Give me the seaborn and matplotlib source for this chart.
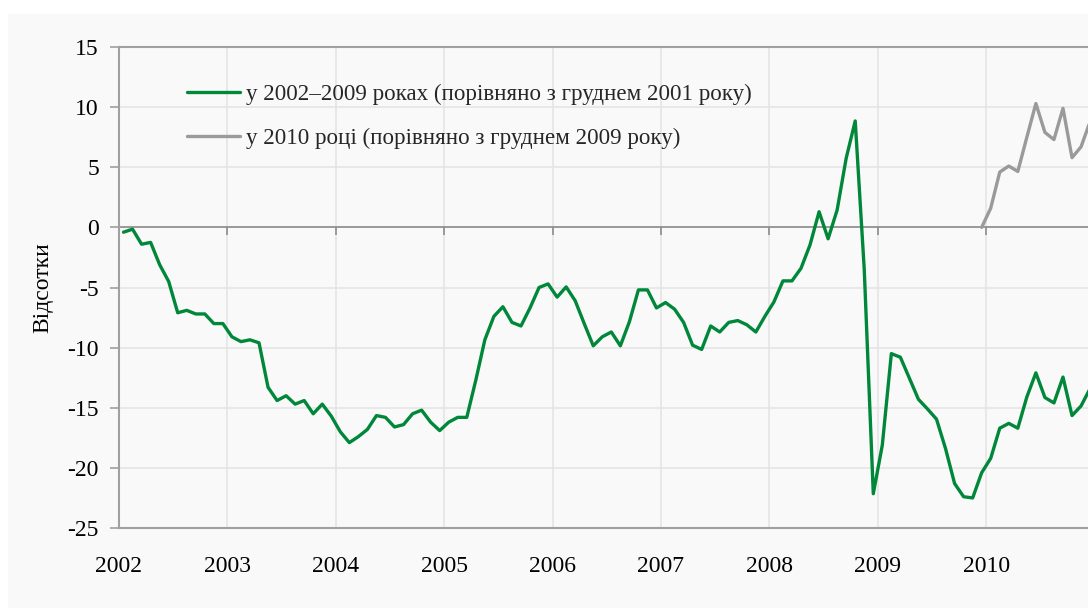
import numpy as np
import matplotlib
matplotlib.use("Agg")
import matplotlib.pyplot as plt
import matplotlib.patches as mpatches
from matplotlib.ticker import MultipleLocator, FormatStrFormatter
import seaborn as sns
import pandas as pd

# monthly index values, Jan 2002 .. Dec 2010 (vs Dec 2001)
since_2001 = [
    -0.4, -0.15, -1.4, -1.25, -3.1, -4.5, -7.1, -6.9, -7.2, -7.2, -8.0, -8.0,          # 2002
    -9.1, -9.5, -9.35, -9.6, -13.3, -14.4, -14.0, -14.7, -14.4, -15.5, -14.7, -15.7,   # 2003
    -17.0, -17.9, -17.4, -16.8, -15.65, -15.8, -16.6, -16.4, -15.5, -15.2, -16.2, -16.9,  # 2004
    -16.2, -15.8, -15.8, -12.7, -9.35, -7.4, -6.6, -7.9, -8.2, -6.7, -5.0, -4.7,       # 2005
    -5.8, -4.95, -6.1, -8.0, -9.85, -9.1, -8.7, -9.85, -7.85, -5.2, -5.2, -6.7,        # 2006
    -6.25, -6.8, -7.9, -9.8, -10.15, -8.2, -8.7, -7.9, -7.75, -8.1, -8.7, -7.4,        # 2007
    -6.2, -4.45, -4.45, -3.4, -1.45, 1.3, -0.95, 1.45, 5.75, 8.85, -3.5, -22.15,       # 2008
    -18.1, -10.5, -10.8, -12.55, -14.3, -15.1, -15.95, -18.4, -21.3, -22.4, -22.5, -20.4,  # 2009
    -19.2, -16.7, -16.3, -16.7, -14.1, -12.1, -14.15, -14.6, -12.45, -15.65, -14.85, -13.4,  # 2010
]
# Dec 2009 .. Dec 2010 (vs Dec 2009)
since_2009 = [0.0, 1.6, 4.6, 5.1, 4.65, 7.5, 10.3, 7.9, 7.3, 9.9, 5.8, 6.7, 8.8]

years = list(range(2002, 2011))
label_a = "у 2002–2009 роках (порівняно з груднем 2001 року)"
label_b = "у 2010 році (порівняно з груднем 2009 року)"
y_title = "Відсотки"

# month midpoints on a year scale
t_a = 2002 + (np.arange(len(since_2001)) + 0.5) / 12
t_b = 2009 + (np.arange(len(since_2009)) + 11.5) / 12
df_a = pd.DataFrame({"t": t_a, "v": since_2001})
df_b = pd.DataFrame({"t": t_b, "v": since_2009})

sns.set_theme(style="whitegrid")
plt.rcParams["font.family"] = ["Liberation Serif", "DejaVu Serif"]
plt.rcParams["axes.unicode_minus"] = False

green = "#00873a"
grey_line = "#9a9a9a"
panel = "#f9f9f9"
axis_grey = "#8c8c8c"

fig = plt.figure(figsize=(10.88, 6.08), dpi=100)
fig.patch.set_facecolor("white")
fig.patches.append(mpatches.Rectangle((8 / 1088, 0), 1, 1 - 14 / 608,
                                      transform=fig.transFigure,
                                      facecolor=panel, edgecolor="none", zorder=-10))

ax = fig.add_axes([119 / 1088, 80 / 608, 975.6 / 1088, 481 / 608])
ax.set_facecolor(panel)

sns.lineplot(data=df_a, x="t", y="v", ax=ax, color=green, lw=2.4, label=label_a)
sns.lineplot(data=df_b, x="t", y="v", ax=ax, color=grey_line, lw=2.4, label=label_b)

ax.set_xlim(2002, 2011)
ax.set_ylim(-25, 15)
ax.set_xticks(years)
ax.xaxis.set_major_formatter(FormatStrFormatter("%d"))
ax.yaxis.set_major_locator(MultipleLocator(5))
ax.grid(True, color="#e4e4e4", lw=1.1)
ax.axvline(2011, color="#e4e4e4", lw=1.1, zorder=0)

# zero line with small ticks hanging below it at each year
ax.axhline(0, color=axis_grey, lw=1.2, zorder=1)
ax.plot(years, np.zeros(len(years)), ls="none", marker=3, markersize=6,
        markeredgewidth=1.2, color=axis_grey, zorder=1)

for side in ["left", "top", "bottom"]:
    ax.spines[side].set_visible(True)
    ax.spines[side].set_color("#a0a0a0")
    ax.spines[side].set_linewidth(1.5)
ax.spines["right"].set_visible(False)

ax.tick_params(axis="y", left=True, length=6.5, width=1.2, color="#a0a0a0",
               pad=8, labelsize=17, labelcolor="black")
ax.tick_params(axis="x", bottom=False, length=0, pad=20, labelsize=17,
               labelcolor="black")

ax.set_xlabel("")
ax.set_ylabel(y_title, fontsize=17, color="black", labelpad=10)

ax.legend(loc="upper left", bbox_to_anchor=(0.07, 0.924), frameon=False,
          fontsize=16.6, handlelength=2.3, handletextpad=0.25, labelspacing=1.0,
          borderpad=0, borderaxespad=0)

fig.savefig("out.png", dpi=100, facecolor=fig.get_facecolor())
